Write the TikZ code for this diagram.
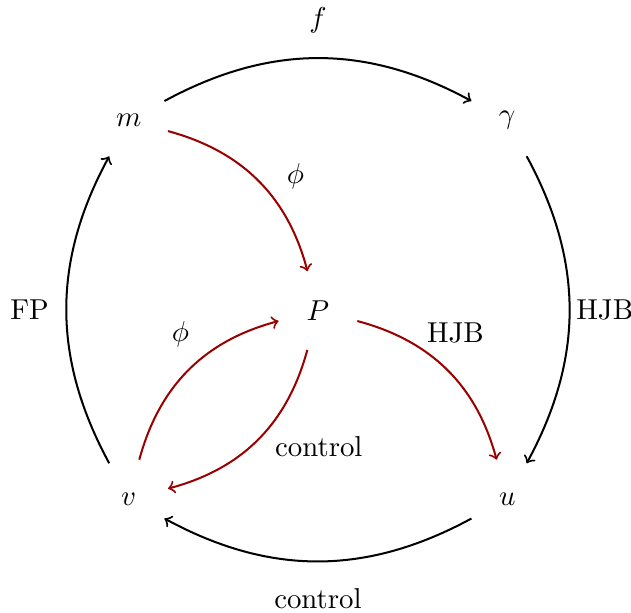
\documentclass[tikz,border=0pt]{standalone}
\usetikzlibrary{positioning}
\tikzset{
  vert/.style={circle, minimum size=9.8mm, inner sep=0pt},
  flow/.style={->, line width=0.7pt, bend left=28.5},
  back/.style={->, line width=0.7pt, bend left=30, draw=red!60!black},
  lbl/.style={midway, text=black}
}
\begin{document}
\begin{tikzpicture}
\useasboundingbox (-3.88,-3.68) rectangle (3.82,3.79);
\node[vert] (P) at (0,0) {$P$};
\node[vert] (m) at (-2.31,2.32) {$m$};
\node[vert] (g) at (2.31,2.32) {$\gamma$};
\node[vert] (v) at (-2.31,-2.30) {$v$};
\node[vert] (u) at (2.31,-2.30) {$u$};
% outer loop
\draw[flow] (m) to node[lbl, yshift=4.6mm] {$f$} (g);
\draw[flow] (g) to node[lbl, xshift=4.3mm] {HJB} (u);
\draw[flow] (u) to node[lbl, yshift=-4.6mm] {control} (v);
\draw[flow] (v) to node[lbl, xshift=-4.5mm] {FP} (m);
% inner arrows
\draw[back] (m) to node[lbl, right=2.2mm, yshift=0.6mm] {$\phi$} (P);
\draw[back] (P) to node[lbl, above=2mm, xshift=1mm] {HJB} (u);
\draw[back] (P) to node[lbl, right=0.8mm, yshift=-0.8mm] {control} (v);
\draw[back] (v) to node[lbl, above=1.5mm, xshift=-1mm] {$\phi$} (P);
\end{tikzpicture}
\end{document}
